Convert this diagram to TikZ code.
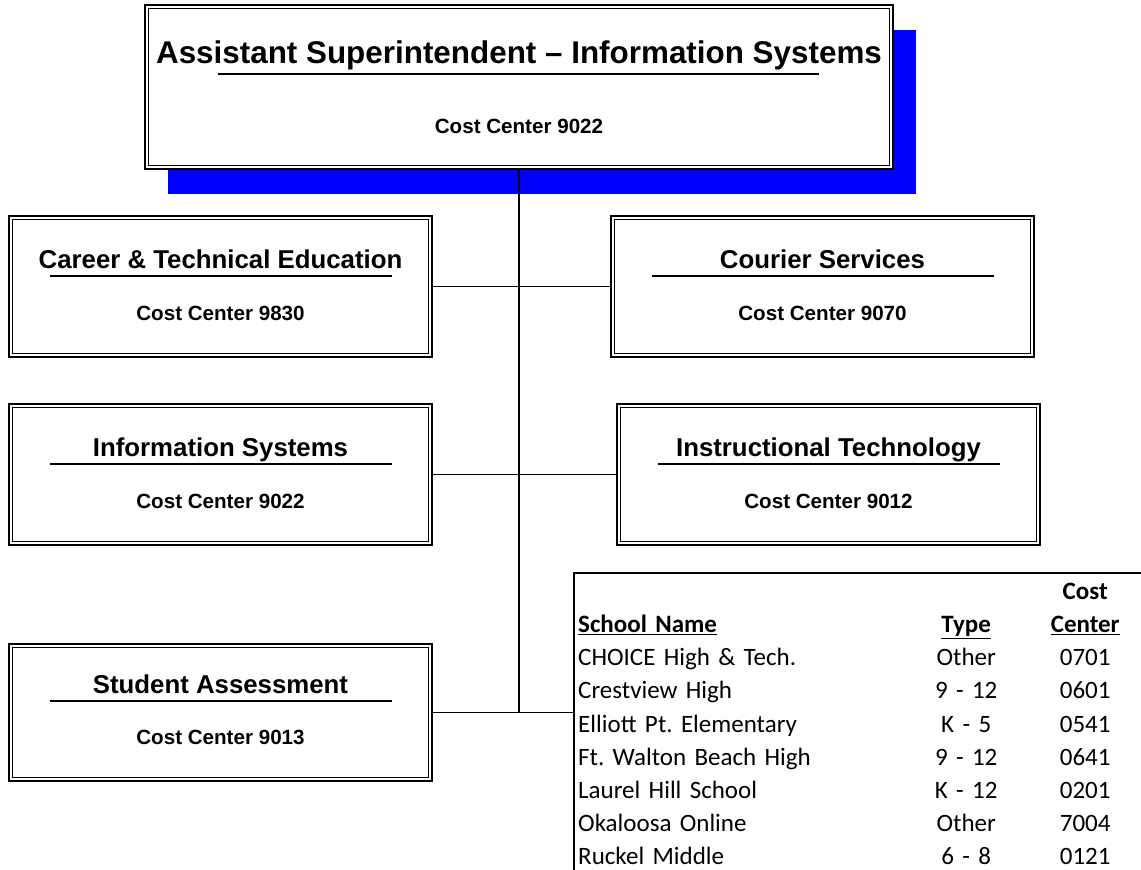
\documentclass[tikz,border=0pt]{standalone}
\usepackage{fontspec}
\setmainfont{Liberation Sans}
\newfontfamily\tablefont{Carlito}
\usetikzlibrary{matrix, positioning, shadows}
\tikzset{
  unit/.style={draw, line width=2pt, fill=white, anchor=north west,
    minimum width=423pt, minimum height=141pt, inner sep=0pt},
  unitname/.style={font=\fontsize{25.8}{30}\selectfont\bfseries, inner sep=0pt},
  costcenter/.style={font=\fontsize{20.6}{24}\selectfont\bfseries, inner sep=0pt},
  frame/.style={line width=1pt},
  rule/.style={line width=1.5pt},
  link/.style={line width=1.5pt},
  cell/.style={font=\tablefont\frenchspacing\fontsize{25}{30}\selectfont, inner sep=0pt,
    text height=18pt, text depth=6pt}
}

\begin{document}
\begin{tikzpicture}[x=1pt, y=-1pt]
  \useasboundingbox (0,0) rectangle (1141,870);

  % head of the division, with its blue shadow
  \node[unit, minimum width=748pt, minimum height=164pt,
    drop shadow={shadow xshift=23pt, shadow yshift=-25pt, fill=blue, opacity=1}]
    (super) at (144,4) {};
  \node[unitname, font=\fontsize{31.4}{36}\selectfont\bfseries,
    below=59pt of super.north, anchor=base]
    (super-name) {Assistant Superintendent -- Information Systems};
  \node[costcenter, below=129pt of super.north, anchor=base]
    (super-cc) {Cost Center 9022};
  \draw[rule] ([xshift=74pt,yshift=-70pt]super.north west)
    -- ([xshift=-75pt,yshift=-70pt]super.north east);

  % departments
  \node[unit] (cte) at (8,215) {};
  \node[unitname, below=53pt of cte.north, anchor=base] (cte-name) {Career \& Technical Education};
  \node[costcenter, below=105pt of cte.north, anchor=base] (cte-cc) {Cost Center 9830};

  \node[unit] (courier) at (610,215) {};
  \node[unitname, below=53pt of courier.north, anchor=base] (courier-name) {Courier Services};
  \node[costcenter, below=105pt of courier.north, anchor=base] (courier-cc) {Cost Center 9070};

  \node[unit] (info) at (8,403) {};
  \node[unitname, below=53pt of info.north, anchor=base] (info-name) {Information Systems};
  \node[costcenter, below=105pt of info.north, anchor=base] (info-cc) {Cost Center 9022};

  \node[unit] (instr) at (616,403) {};
  \node[unitname, below=53pt of instr.north, anchor=base] (instr-name) {Instructional Technology};
  \node[costcenter, below=105pt of instr.north, anchor=base] (instr-cc) {Cost Center 9012};

  \node[unit, minimum height=137pt] (assess) at (8,643) {};
  \node[unitname, below=50pt of assess.north, anchor=base] (assess-name) {Student Assessment};
  \node[costcenter, below=101pt of assess.north, anchor=base] (assess-cc) {Cost Center 9013};

  % inner line of the double frames
  \foreach \b in {super, cte, courier, info, instr, assess}
    \draw[frame] ([xshift=4.5pt,yshift=-4.5pt]\b.north west)
      rectangle ([xshift=-4.5pt,yshift=4.5pt]\b.south east);

  % rules between name and cost center
  \foreach \b/\d in {cte/61, courier/61, info/61, instr/61, assess/58}
    \draw[rule] ([xshift=42pt,yshift=-\d pt]\b.north west)
      -- ([xshift=-41pt,yshift=-\d pt]\b.north east);

  % schools
  \coordinate (tbl) at (574,573);
  \draw[line width=2pt] (1141,573) -- (tbl) -- (tbl |- 0,870);

  \matrix (schools) [matrix of nodes, anchor=north west, inner sep=0pt,
    row sep=9.2pt, column sep=0pt,
    nodes={cell},
    column 1/.style={nodes={text width=330pt, align=left}},
    column 2/.style={nodes={text width=116pt, align=center}},
    column 3/.style={nodes={text width=122pt, align=center}}]
    at (578,581)
    {
      & & \textbf{Cost} \\
      \textbf{\underline{School Name}} & \textbf{\underline{Type}} & \textbf{\underline{Center}} \\
      CHOICE High \& Tech. & Other & 0701 \\
      Crestview High & 9 - 12 & 0601 \\
      Elliott Pt. Elementary & K - 5 & 0541 \\
      Ft. Walton Beach High & 9 - 12 & 0641 \\
      Laurel Hill School & K - 12 & 0201 \\
      Okaloosa Online & Other & 7004 \\
      Ruckel Middle & 6 - 8 & 0121 \\
    };

  % reporting lines
  \draw[link] (super.south) -- (super.south |- assess.east);
  \draw[link] (cte.east) -- (courier.west);
  \draw[link] (info.east) -- (instr.west);
  \draw[link] (assess.east) -- (assess.east -| tbl);
\end{tikzpicture}
\end{document}
